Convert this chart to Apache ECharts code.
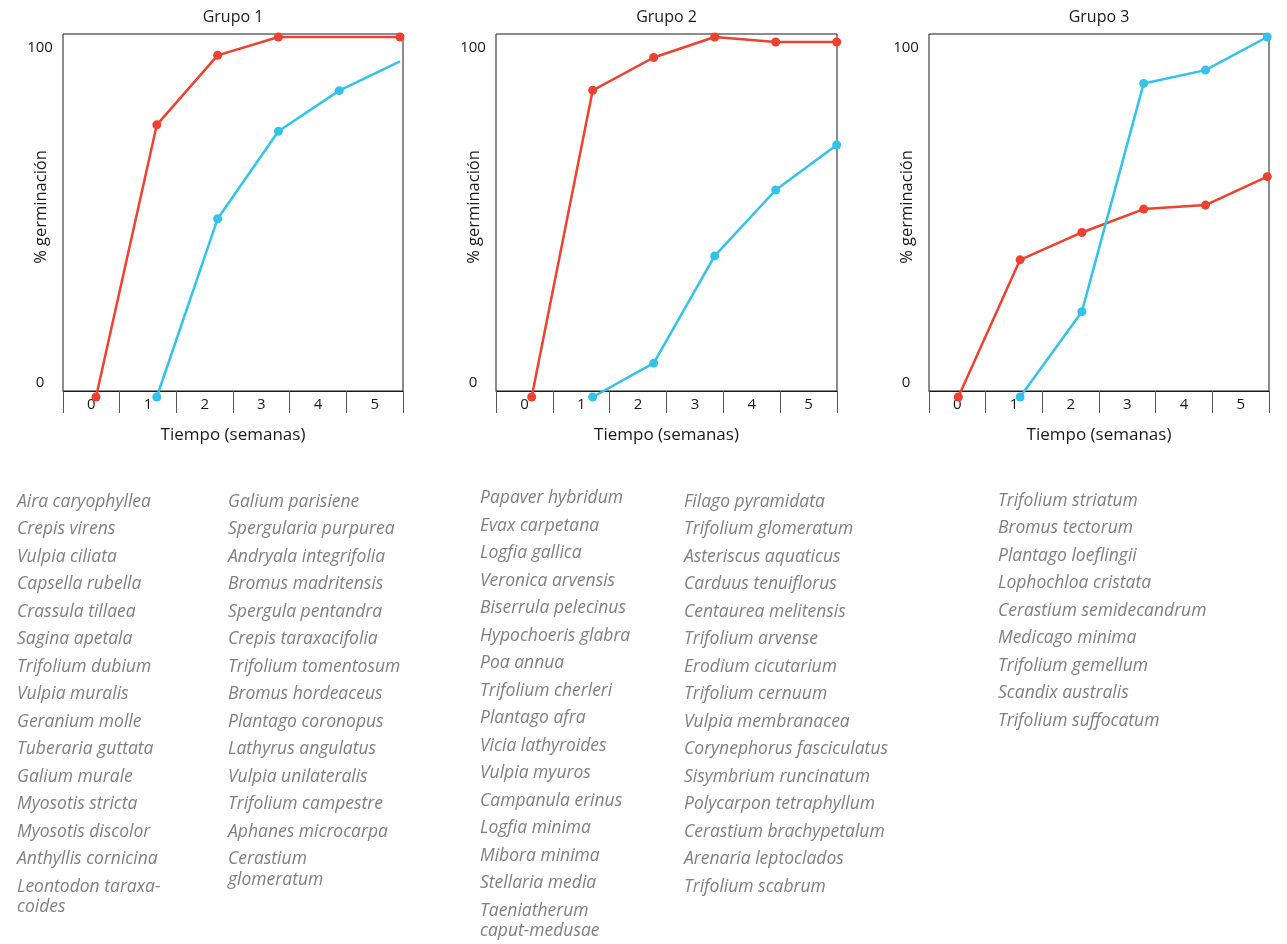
<!DOCTYPE html>
<html>
<head>
<meta charset="utf-8">
<script src="https://cdn.jsdelivr.net/npm/echarts@6/dist/echarts.min.js"></script>
<style>
html,body{margin:0;padding:0;background:#fff;}
#chart{width:1287px;height:944px;}
</style>
</head>
<body>
<div id="chart"></div>
<script>
// ---------- data ----------
const weeks = [0, 1, 2, 3, 4, 5];
const tickLabels = ['0', '1', '2', '3', '4', '5'];
const groupTitles = ['Grupo 1', 'Grupo 2', 'Grupo 3'];
const yTickValues = [0, 100];
const yName = '% germinación';
const xName = 'Tiempo (semanas)';

const g1Red  = [0, 75.6, 94.9, 100, null, 100];
const g1Blue = [null, 0, 49.5, 73.8, 85.1, 93.2];
const g2Red  = [0, 85.2, 94.3, 100, 98.6, 98.6];
const g2Blue = [null, 0, 9.4, 39.2, 57.5, 70.0];
const g3Red  = [0, 38.1, 45.7, 52.2, 53.3, 61.2];
const g3Blue = [null, 0, 23.7, 87.1, 90.8, 100];

const g1Species1 = ['Aira caryophyllea','Crepis virens','Vulpia ciliata','Capsella rubella','Crassula tillaea','Sagina apetala','Trifolium dubium','Vulpia muralis','Geranium molle','Tuberaria guttata','Galium murale','Myosotis stricta','Myosotis discolor','Anthyllis cornicina','Leontodon taraxa-\ncoides'];
const g1Species2 = ['Galium parisiene','Spergularia purpurea','Andryala integrifolia','Bromus madritensis','Spergula pentandra','Crepis taraxacifolia','Trifolium tomentosum','Bromus hordeaceus','Plantago coronopus','Lathyrus angulatus','Vulpia unilateralis','Trifolium campestre','Aphanes microcarpa','Cerastium\nglomeratum'];
const g2Species1 = ['Papaver hybridum','Evax carpetana','Logfia gallica','Veronica arvensis','Biserrula pelecinus','Hypochoeris glabra','Poa annua','Trifolium cherleri','Plantago afra','Vicia lathyroides','Vulpia myuros','Campanula erinus','Logfia minima','Mibora minima','Stellaria media','Taeniatherum\ncaput-medusae'];
const g2Species2 = ['Filago pyramidata','Trifolium glomeratum','Asteriscus aquaticus','Carduus tenuiflorus','Centaurea melitensis','Trifolium arvense','Erodium cicutarium','Trifolium cernuum','Vulpia membranacea','Corynephorus fasciculatus','Sisymbrium runcinatum','Polycarpon tetraphyllum','Cerastium brachypetalum','Arenaria leptoclados','Trifolium scabrum'];
const g3Species1 = ['Trifolium striatum','Bromus tectorum','Plantago loeflingii','Lophochloa cristata','Cerastium semidecandrum','Medicago minima','Trifolium gemellum','Scandix australis','Trifolium suffocatum'];

// ---------- layout / style ----------
const RED = '#ee4130', BLUE = '#33c3ea';
const FONT = '"Open Sans", "Noto Sans", sans-serif';
const panels = [
  { left: 63,  width: 340, xmin: -0.543, xmax: 5.049, red: g1Red, blue: g1Blue, hideBlue: [5], hideRed: [] },
  { left: 496, width: 341, xmin: -0.585, xmax: 5.005, red: g2Red, blue: g2Blue, hideBlue: [], hideRed: [] },
  { left: 929, width: 340, xmin: -0.474, xmax: 5.028, red: g3Red, blue: g3Blue, hideBlue: [], hideRed: [] }
];
const gridTop = 34, gridHeight = 357;

function buildData(vals, hide) {
  const out = [];
  vals.forEach((v, i) => {
    if (v === null) return;
    const item = { value: [weeks[i], v] };
    if (hide.indexOf(i) >= 0) item.symbolSize = 0;
    out.push(item);
  });
  return out;
}

const grid = [], xAxis = [], yAxis = [], series = [], graphic = [];
panels.forEach((p, k) => {
  grid.push({ left: p.left, top: gridTop, width: p.width, height: gridHeight,
    show: true, borderColor: '#1a1a1a', borderWidth: 1, backgroundColor: 'transparent' });
  xAxis.push({
    type: 'category', gridIndex: k, data: tickLabels, boundaryGap: true, position: 'bottom',
    axisLine: { show: true, onZero: false, lineStyle: { color: '#1a1a1a', width: 1 } },
    axisTick: { show: true, interval: 0, length: 22, lineStyle: { color: '#555', width: 1 } },
    axisLabel: { interval: 0, margin: 6, fontFamily: FONT, fontSize: 15, color: '#1a1a1a' },
    name: xName, nameLocation: 'middle', nameGap: 36,
    nameTextStyle: { fontFamily: FONT, fontSize: 17, color: '#1a1a1a' },
    splitLine: { show: false }
  });
  xAxis.push({
    type: 'value', gridIndex: k, min: p.xmin, max: p.xmax, show: false,
    axisLine: { onZero: false }, splitLine: { show: false }
  });
  yAxis.push({
    type: 'value', gridIndex: k, min: 1.667, max: 100.833, show: false,
    axisLine: { onZero: false }, splitLine: { show: false }
  });
  yAxis.push({
    type: 'value', gridIndex: k, min: -2.388, max: 104.18, position: 'left',
    axisLine: { show: false, onZero: false }, axisTick: { show: false }, splitLine: { show: false },
    axisLabel: { customValues: yTickValues, margin: 23, align: 'center',
      fontFamily: FONT, fontSize: 15, color: '#1a1a1a' }
  });
  const xi = k * 2 + 1, yi = k * 2;
  series.push({
    type: 'line', xAxisIndex: xi, yAxisIndex: yi, data: buildData(p.red, p.hideRed),
    clip: false, symbol: 'circle', symbolSize: 9, connectNulls: true,
    lineStyle: { color: RED, width: 2.5 }, itemStyle: { color: RED }, z: 5, animation: false
  });
  series.push({
    type: 'line', xAxisIndex: xi, yAxisIndex: yi, data: buildData(p.blue, p.hideBlue),
    clip: false, symbol: 'circle', symbolSize: 9, connectNulls: true,
    lineStyle: { color: BLUE, width: 2.5 }, itemStyle: { color: BLUE }, z: 5, animation: false
  });
  graphic.push({ type: 'text', x: p.left + p.width / 2, y: 17,
    style: { text: groupTitles[k], font: '16px ' + FONT, fill: '#1a1a1a', align: 'center', verticalAlign: 'middle' } });
  graphic.push({ type: 'text', x: p.left - 21.5, y: 207, rotation: Math.PI / 2,
    style: { text: yName, font: '16.5px ' + FONT, fill: '#1a1a1a', align: 'center', verticalAlign: 'middle' } });
});

const lists = [
  { names: g1Species1, x: 17,  y0: 501.7 },
  { names: g1Species2, x: 228, y0: 501.7 },
  { names: g2Species1, x: 480, y0: 498.3 },
  { names: g2Species2, x: 684, y0: 501.7 },
  { names: g3Species1, x: 998, y0: 500.7 }
];
const PITCH = 27.5, LH = 20.5;
lists.forEach(l => {
  l.names.forEach((n, i) => {
    graphic.push({ type: 'text', x: l.x, y: l.y0 + i * PITCH - LH / 2,
      style: { text: n, font: 'italic 17.5px ' + FONT, fill: '#808080', lineHeight: LH,
        align: 'left', verticalAlign: 'top' } });
  });
});

const chart = echarts.init(document.getElementById('chart'), null, { renderer: 'canvas' });
chart.setOption({ animation: false, grid, xAxis, yAxis, series, graphic });
</script>
</body>
</html>
